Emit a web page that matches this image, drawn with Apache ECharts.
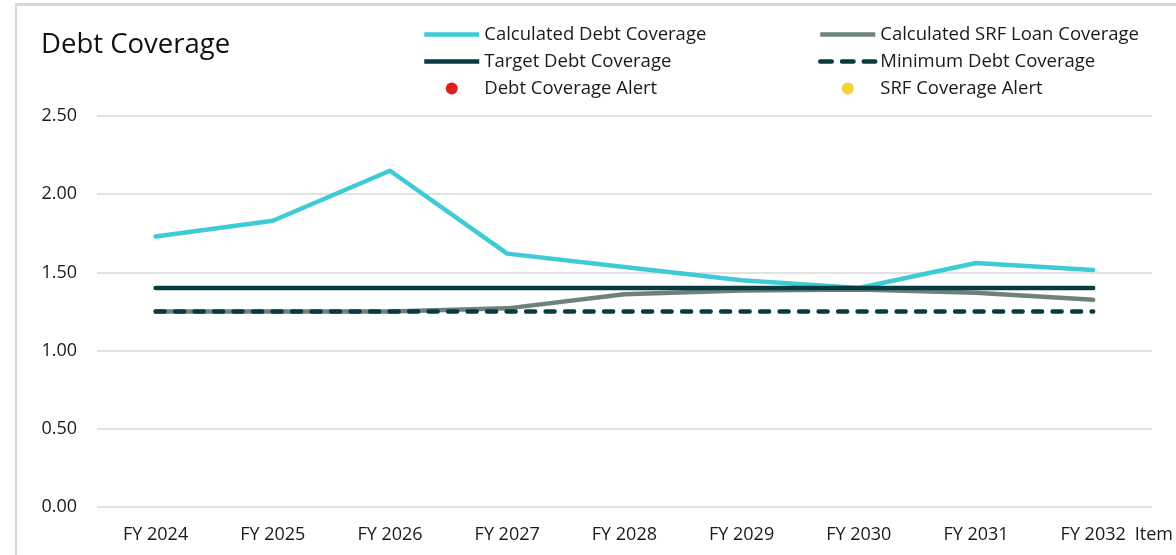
<!DOCTYPE html>
<html>
<head>
<meta charset="utf-8">
<script src="https://cdn.jsdelivr.net/npm/echarts@6/dist/echarts.min.js"></script>
<style>
html,body{margin:0;padding:0;background:#fff;}
#main{width:1176px;height:555px;}
</style>
</head>
<body>
<div id="main"></div>
<script>
var categories = ['FY 2024','FY 2025','FY 2026','FY 2027','FY 2028','FY 2029','FY 2030','FY 2031','FY 2032'];
var calcDebt   = [1.73, 1.83, 2.15, 1.62, 1.535, 1.45, 1.40, 1.56, 1.515];
var calcSRF    = [1.25, 1.25, 1.25, 1.27, 1.36, 1.385, 1.39, 1.37, 1.325];
var targetDebt = [1.40, 1.40, 1.40, 1.40, 1.40, 1.40, 1.40, 1.40, 1.40];
var minDebt    = [1.25, 1.25, 1.25, 1.25, 1.25, 1.25, 1.25, 1.25, 1.25];
var debtAlert  = [];
var srfAlert   = [];
var yTicks = [0, 0.5, 1.0, 1.5, 2.0, 2.5];

var FONT = 'Open Sans';
var C_CYAN = '#3ecbd6', C_GRAY = '#6c8478', C_DARK = '#073b40', C_RED = '#e01f1a', C_YEL = '#f8d03a';
var chart = echarts.init(document.getElementById('main'), null, {renderer:'canvas'});
var legendText = {fontFamily: FONT, fontSize: 18.5, color: '#1a1a1a'};
var hideSym = {opacity: 0};
function lineItem(name, color, dashed) {
  return {name: name, itemStyle: hideSym,
          lineStyle: {color: color, width: 4.5, type: dashed ? [11.5, 10.25] : 'solid', cap: dashed ? 'round' : 'butt', opacity: 1}};
}
chart.setOption({
  animation: false,
  backgroundColor: '#fff',
  title: {
    text: 'Debt Coverage', left: 36, top: 26,
    textStyle: {fontFamily: FONT, fontSize: 27.5, fontWeight: 'normal', color: '#111'}
  },
  graphic: [
    {type:'rect', shape:{x:16, y:3, width:1160, height:3}, style:{fill:'#d9d9d9'}, silent:true},
    {type:'rect', shape:{x:15, y:3, width:2, height:552}, style:{fill:'#d9d9d9'}, silent:true}
  ],
  legend: [
    {orient:'vertical', left:422, top:25, padding:0, itemWidth:55, itemHeight:12, itemGap:8,
     textStyle: legendText,
     data:[lineItem('Calculated Debt Coverage', C_CYAN), lineItem('Target Debt Coverage', C_DARK),
           {name:'Debt Coverage Alert', icon:'circle', itemStyle:{color:C_RED, opacity:1}}]},
    {orient:'vertical', left:818, top:25, padding:0, itemWidth:55, itemHeight:12, itemGap:8,
     textStyle: legendText,
     data:[lineItem('Calculated SRF Loan Coverage', C_GRAY), lineItem('Minimum Debt Coverage', C_DARK, true),
           {name:'SRF Coverage Alert', icon:'circle', itemStyle:{color:C_YEL, opacity:1}}]}
  ],
  grid: {left: 97, right: 23, top: 116, bottom: 48},
  xAxis: {
    type: 'category', data: categories, boundaryGap: true,
    name: 'Item', nameLocation: 'end', nameGap: -17,
    nameTextStyle: {fontFamily: FONT, fontSize: 18, color: '#1a1a1a', verticalAlign: 'top', padding: [19,0,0,0]},
    axisLine: {show: false}, axisTick: {show: false},
    axisLabel: {fontFamily: FONT, fontSize: 18, color: '#1a1a1a', margin: 19}
  },
  yAxis: {
    type: 'value', min: yTicks[0], max: yTicks[yTicks.length-1], interval: 0.5,
    axisLine: {show:false}, axisTick: {show:false},
    axisLabel: {fontFamily: FONT, fontSize: 18, color: '#1a1a1a', margin: 20, formatter: function(v){return v.toFixed(2);}},
    splitLine: {lineStyle: {color: '#d9d9d9', width: 1.5}}
  },
  series: [
    {name:'Calculated Debt Coverage', type:'line', data: calcDebt, symbol:'none',
     lineStyle:{color:C_CYAN, width:4.5, cap:'round', join:'round'}, itemStyle:{color:C_CYAN}},
    {name:'Calculated SRF Loan Coverage', type:'line', data: calcSRF, symbol:'none',
     lineStyle:{color:C_GRAY, width:4.5, cap:'round', join:'round'}, itemStyle:{color:C_GRAY}},
    {name:'Target Debt Coverage', type:'line', data: targetDebt, symbol:'none',
     lineStyle:{color:C_DARK, width:4.5, cap:'round'}, itemStyle:{color:C_DARK}},
    {name:'Minimum Debt Coverage', type:'line', data: minDebt, symbol:'none',
     lineStyle:{color:C_DARK, width:4.5, type:[9,10.5], cap:'round'}, itemStyle:{color:C_DARK}},
    {name:'Debt Coverage Alert', type:'scatter', data: debtAlert, itemStyle:{color:C_RED, opacity:1}},
    {name:'SRF Coverage Alert', type:'scatter', data: srfAlert, itemStyle:{color:C_YEL, opacity:1}}
  ]
});
</script>
</body>
</html>
